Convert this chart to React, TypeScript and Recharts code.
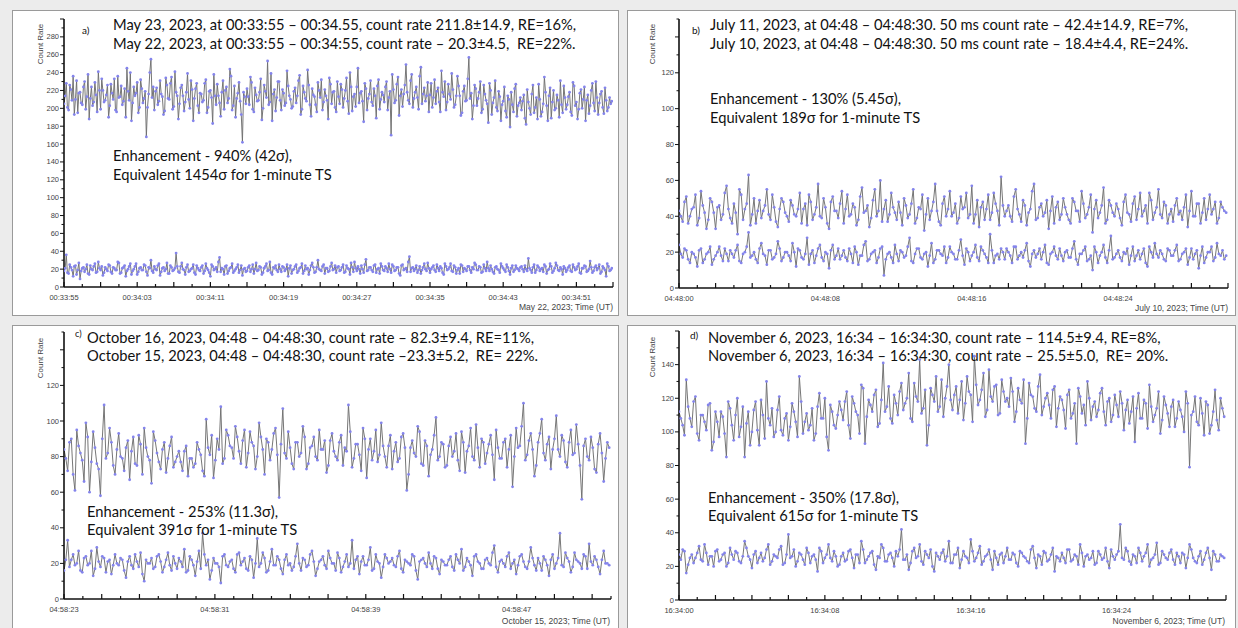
import React from 'react';
import { LineChart, Line, XAxis, YAxis } from 'recharts';

// ---------- Panel a: May 23 (signal) vs May 22 (background), 00:33:55 – 00:34:55 ----------
// samples at t = i*step
const A_HI = [
  205, 228, 198, 221, 236, 210, 195, 218, 204, 230, 213, 188, 224, 207, 215, 241, 199, 220, 209, 226,
  203, 217, 233, 196, 212, 225, 208, 190, 219, 240, 206, 214, 229, 201, 222, 211, 168, 216, 255, 224,
  219, 204, 231, 213, 197, 226, 210, 235, 202, 218, 188, 223, 214, 207, 239, 200, 221, 211, 228, 195,
  216, 209, 232, 201, 220, 183, 214, 227, 206, 218, 199, 224, 211, 236, 203, 190, 217, 208, 162, 213,
  222, 204, 229, 196, 215, 209, 233, 200, 219, 253, 207, 186, 221, 212, 230, 198, 217, 206, 225, 210,
  202, 223, 214, 237, 199, 218, 208, 226, 191, 215, 204, 229, 212, 198, 221, 209, 234, 205, 219, 196,
  213, 227, 201, 220, 208, 240, 197, 216, 224, 206, 219, 185, 222, 211, 231, 203, 214, 225, 199, 218,
  207, 230, 212, 170, 221, 209, 235, 214, 202, 226, 218, 205, 238, 211, 224, 199, 246, 216, 208, 229,
  215, 201, 232, 219, 207, 242, 213, 198, 227, 210, 221, 204, 236, 214, 195, 225, 209, 257, 217, 203,
  222, 211, 230, 199, 216, 205, 228, 193, 212, 201, 219, 186, 208, 197, 214, 179, 204, 222, 191, 206,
  198, 215, 182, 207, 193, 226, 201, 188, 210, 196, 235, 203, 214, 189, 220, 200, 209, 231, 195, 212,
  204, 218, 192, 225, 207, 199, 221, 210, 186, 215, 203, 228, 197, 212, 206, 219, 194, 209, 201, 205,
];
// samples at t = (i+0.5)*step
const A_HI_MID = [
  214, 201, 226, 209, 193, 231, 217, 206, 224, 199, 238, 211, 203, 229, 196, 220, 233, 207, 215, 190,
  227, 210, 198, 236, 213, 204, 222, 245, 209, 186, 224, 217, 195, 232, 206, 219, 201, 240, 212, 198,
  223, 208, 216, 193, 234, 211, 228, 199, 241, 214, 205, 226, 197, 218, 210, 231, 186, 222, 203, 217,
  207, 228, 195, 219, 212, 238, 204, 214, 191, 231, 220, 206, 244, 198, 225, 211, 229, 193, 218, 205,
  213, 235, 199, 223, 208, 218, 187, 226, 212, 204, 239, 216, 197, 230, 209, 221, 203, 242, 214, 200,
  219, 206, 231, 193, 225, 211, 243, 204, 222, 213, 196, 220, 232, 207, 214, 188, 227, 218, 201, 230,
  205, 221, 211, 234, 194, 224, 213, 202, 245, 217, 208, 228, 198, 216, 207, 222, 189, 232, 210, 215,
  224, 198, 219, 238, 206, 227, 192, 221, 216, 249, 209, 231, 201, 218, 212, 236, 205, 223, 214, 196,
  228, 212, 205, 223, 196, 218, 230, 207, 216, 239, 201, 214, 225, 192, 219, 208, 233, 211, 188, 226,
  203, 218, 195, 226, 209, 184, 220, 206, 231, 197, 213, 204, 224, 190, 210, 218, 196, 227, 203, 212,
  208, 189, 221, 200, 216, 195, 212, 227, 191, 205, 218, 186, 223, 207, 198, 215, 190, 204, 225, 199,
  213, 196, 229, 203, 188, 217, 200, 224, 209, 194, 220, 206, 230, 193, 216, 201, 223, 197, 212, 208,
];
const A_LO = [
  18, 36, 15, 22, 12, 24, 19, 9, 21, 17, 25, 14, 20, 23, 16, 28, 19, 13, 22, 18,
  24, 15, 21, 19, 27, 16, 22, 12, 20, 26, 18, 23, 14, 21, 19, 25, 17, 22, 30, 16,
  20, 24, 13, 21, 18, 27, 15, 22, 19, 38, 17, 23, 20, 14, 25, 18, 21, 16, 24, 19,
  22, 15, 26, 19, 12, 23, 20, 17, 33, 21, 14, 24, 18, 22, 16, 20, 25, 19, 13, 21,
  18, 24, 20, 15, 27, 19, 22, 16, 23, 18, 28, 14, 21, 19, 25, 17, 22, 20, 12, 24,
  19, 23, 16, 21, 26, 18, 20, 14, 24, 22, 17, 30, 19, 23, 15, 21, 18, 27, 20, 16,
  23, 19, 25, 17, 21, 14, 22, 28, 18, 20, 24, 16, 31, 19, 22, 17, 25, 20, 15, 23,
  18, 21, 26, 16, 23, 19, 22, 13, 25, 20, 17, 34, 21, 18, 24, 19, 15, 22, 20, 27,
  16, 22, 19, 25, 18, 21, 14, 23, 20, 26, 17, 22, 19, 15, 24, 21, 18, 23, 16, 20,
  25, 19, 22, 17, 21, 28, 18, 20, 15, 23, 19, 26, 21, 17, 22, 14, 24, 19, 21, 18,
  23, 17, 20, 32, 19, 22, 16, 24, 18, 21, 25, 15, 20, 23, 18, 27, 19, 22, 14, 21,
  19, 24, 17, 22, 20, 26, 15, 21, 23, 18, 29, 16, 22, 19, 25, 17, 21, 12, 23, 19,
];
const A_LO_MID = [
  21, 16, 25, 19, 23, 14, 27, 18, 22, 20, 15, 24, 19, 26, 17, 21, 23, 16, 20, 25,
  17, 22, 19, 28, 15, 21, 24, 18, 23, 14, 20, 26, 17, 22, 19, 24, 13, 21, 18, 23,
  19, 26, 17, 22, 20, 15, 24, 18, 21, 23, 16, 27, 19, 22, 17, 20, 25, 14, 21, 18,
  24, 18, 21, 16, 25, 19, 22, 28, 17, 20, 23, 15, 21, 26, 18, 22, 16, 24, 20, 17,
  22, 17, 25, 20, 18, 23, 14, 21, 26, 19, 16, 22, 24, 17, 20, 23, 18, 25, 21, 15,
  20, 25, 18, 22, 15, 24, 21, 19, 27, 16, 22, 20, 18, 25, 21, 17, 23, 19, 24, 22,
  18, 22, 16, 24, 20, 27, 17, 21, 23, 15, 20, 25, 18, 22, 19, 24, 16, 21, 26, 19,
  23, 17, 20, 25, 18, 22, 15, 24, 19, 21, 28, 17, 22, 20, 16, 23, 19, 26, 18, 21,
  20, 24, 17, 21, 23, 16, 26, 19, 22, 18, 24, 15, 21, 25, 17, 20, 23, 19, 22, 27,
  19, 23, 16, 25, 18, 21, 24, 17, 22, 20, 16, 23, 19, 25, 18, 21, 17, 24, 20, 22,
  20, 24, 18, 21, 16, 25, 19, 22, 20, 17, 23, 19, 26, 16, 21, 24, 18, 20, 23, 17,
  22, 18, 25, 19, 23, 16, 21, 24, 17, 20, 22, 18, 24, 21, 15, 23, 19, 26, 18, 21,
];
const A_STEP = 0.25;
const A_X_LABEL_AT = [0, 8, 16, 24, 32, 40, 48, 56];
const A_X_LABELS = ['00:33:55', '00:34:03', '00:34:11', '00:34:19', '00:34:27', '00:34:35', '00:34:43', '00:34:51'];
const A_Y_LABELS = [0, 20, 40, 60, 80, 100, 120, 140, 160, 180, 200, 220, 240, 260, 280];

// ---------- Panel b: July 11 vs July 10, 04:48 – 04:48:30 ----------
const B_HI = [
  43, 37, 51, 40, 45, 35, 54, 42, 38, 48, 33, 46, 41, 57, 39,
  47, 30, 52, 44, 63, 41, 36, 49, 43, 55, 38, 45, 34, 50, 42,
  37, 46, 40, 53, 44, 35, 48, 41, 58, 39, 45, 33, 51, 43, 47,
  36, 52, 41, 45, 38, 56, 43, 34, 49, 40, 60, 44, 37, 53, 42,
  48, 35, 46, 41, 55, 39, 44, 32, 50, 43, 58, 37, 47, 40, 54,
  42, 36, 51, 45, 39, 57, 41, 34, 48, 44, 38, 53, 43, 62, 40,
  46, 37, 55, 41, 49, 35, 44, 58, 39, 47, 42, 33, 51, 45, 38,
  50, 41, 36, 48, 43, 54, 39, 45, 31, 49, 42, 56, 38, 46, 40,
  44, 35, 52, 41, 47, 38, 53, 43, 36, 49, 42, 55, 39, 46, 41,
  37, 50, 43, 45, 34, 54, 40, 47, 42, 38, 52, 44, 36, 48, 43,
];
const B_HI_MID = [
  40, 48, 36, 44, 52, 39, 46, 33, 50, 42, 45, 38, 53, 44, 36,
  42, 55, 38, 47, 35, 50, 43, 39, 46, 41, 52, 37, 44, 48, 40,
  49, 41, 44, 36, 47, 52, 38, 45, 40, 50, 36, 48, 43, 39, 54,
  44, 40, 47, 35, 51, 42, 46, 39, 55, 43, 37, 49, 41, 45, 38,
  42, 50, 39, 47, 36, 45, 52, 41, 38, 48, 43, 35, 51, 44, 40,
  47, 39, 44, 53, 41, 36, 49, 45, 38, 52, 42, 47, 35, 46, 43,
  40, 51, 44, 37, 46, 42, 54, 38, 45, 40, 49, 43, 36, 48, 41,
  45, 38, 50, 43, 37, 47, 41, 52, 44, 39, 46, 36, 49, 42, 47,
  39, 48, 42, 37, 51, 44, 40, 46, 53, 38, 45, 41, 48, 36, 44,
  46, 41, 38, 52, 43, 40, 47, 36, 50, 44, 41, 48, 39, 45, 42,
];
const B_LO = [
  24, 17, 21, 14, 19, 12, 22, 16, 20, 13, 18, 23, 15, 19, 21,
  17, 24, 14, 20, 31, 18, 16, 22, 19, 13, 21, 17, 26, 15, 20,
  18, 25, 12, 21, 16, 28, 19, 14, 22, 17, 20, 11, 24, 18, 16,
  21, 15, 19, 23, 13, 18, 26, 16, 20, 14, 22, 7, 19, 17, 24,
  15, 20, 18, 28, 14, 22, 17, 19, 12, 25, 16, 21, 18, 14, 23,
  19, 16, 27, 13, 20, 18, 24, 15, 21, 17, 30, 14, 19, 22, 16,
  20, 14, 23, 18, 17, 25, 12, 21, 19, 16, 24, 13, 20, 18, 22,
  15, 21, 17, 26, 13, 19, 23, 16, 10, 20, 18, 24, 14, 29, 17,
  21, 15, 19, 13, 23, 18, 16, 22, 12, 20, 25, 17, 19, 15, 21,
  18, 24, 16, 20, 13, 22, 19, 11, 23, 17, 20, 15, 25, 18, 16,
];
const B_LO_MID = [
  19, 22, 16, 20, 17, 21, 14, 19, 23, 16, 20, 18, 22, 15, 19,
  21, 15, 19, 23, 17, 20, 14, 25, 18, 21, 16, 19, 22, 17, 20,
  15, 20, 22, 17, 19, 13, 21, 18, 24, 15, 19, 21, 16, 22, 18,
  17, 22, 14, 20, 18, 24, 15, 19, 21, 17, 23, 16, 20, 14, 19,
  21, 17, 23, 15, 19, 22, 16, 20, 18, 14, 21, 19, 23, 17, 20,
  16, 21, 18, 22, 15, 20, 17, 23, 19, 14, 21, 18, 16, 20, 22,
  18, 23, 16, 20, 21, 15, 19, 17, 22, 20, 14, 19, 23, 16, 18,
  20, 17, 22, 16, 19, 21, 15, 18, 23, 14, 20, 17, 21, 16, 19,
  17, 20, 22, 18, 15, 21, 19, 14, 23, 17, 19, 21, 16, 22, 18,
  21, 15, 19, 22, 17, 16, 21, 18, 14, 20, 23, 17, 19, 21, 18,
];
const B_STEP = 0.2;
const B_X_LABEL_AT = [0, 8, 16, 24];
const B_X_LABELS = ['04:48:00', '04:48:08', '04:48:16', '04:48:24'];
const B_Y_LABELS = [0, 20, 40, 60, 80, 100, 120];

// ---------- Panel c: October 16 vs October 15 ----------
const C_HI = [
  84, 72, 90, 61, 86, 78, 99, 60, 94, 76, 58, 109, 82, 88, 70,
  93, 79, 85, 67, 91, 75, 87, 96, 80, 65, 89, 77, 84, 71, 86,
  74, 80, 77, 83, 69, 79, 76, 84, 72, 101, 81, 68, 90, 108, 79,
  92, 85, 97, 83, 89, 74, 94, 86, 80, 91, 70, 88, 84, 96, 57,
  107, 79, 85, 73, 88, 82, 91, 76, 86, 80, 95, 84, 71, 89, 83,
  78, 92, 85, 109, 74, 87, 81, 96, 68, 90, 83, 77, 99, 80, 86,
  73, 88, 79, 93, 61, 85, 82, 97, 76, 89, 69, 84, 102, 80, 87,
  75, 91, 83, 78, 94, 71, 86, 80, 98, 74, 88, 82, 92, 67, 85,
  79, 90, 84, 63, 96, 86, 110, 81, 93, 69, 88, 101, 78, 91, 84,
  103, 80, 89, 74, 95, 82, 87, 56, 90, 78, 85, 71, 93, 66, 88,
];
const C_HI_MID = [
  79, 88, 70, 95, 82, 66, 91, 77, 85, 73, 90, 79, 96, 75, 84,
  80, 72, 89, 83, 76, 92, 70, 85, 78, 94, 82, 73, 88, 79, 91,
  77, 83, 72, 86, 79, 74, 88, 81, 69, 85, 92, 78, 84, 76, 95,
  86, 79, 91, 76, 95, 82, 88, 73, 99, 84, 90, 78, 93, 81, 87,
  82, 94, 76, 88, 80, 97, 73, 85, 91, 78, 84, 89, 75, 93, 80,
  88, 75, 83, 94, 79, 87, 72, 90, 84, 78, 95, 81, 86, 74, 92,
  83, 77, 91, 85, 70, 89, 80, 94, 75, 86, 81, 92, 78, 88, 74,
  86, 80, 93, 72, 88, 83, 96, 78, 85, 90, 76, 87, 81, 95, 79,
  88, 74, 92, 80, 85, 97, 78, 89, 84, 75, 93, 82, 87, 73, 90,
  84, 92, 77, 88, 81, 98, 75, 86, 80, 91, 73, 87, 82, 79, 85,
];
const C_LO = [
  16, 33, 22, 19, 27, 15, 24, 20, 13, 29, 18, 23, 21, 14, 25,
  19, 22, 12, 24, 17, 21, 26, 10, 20, 23, 18, 25, 15, 22, 19,
  24, 17, 21, 28, 16, 22, 13, 27, 37, 19, 11, 23, 20, 9, 25,
  18, 22, 15, 26, 21, 17, 24, 12, 34, 20, 23, 16, 28, 19, 22,
  14, 25, 20, 18, 31, 16, 22, 19, 27, 13, 21, 24, 17, 23, 20,
  26, 15, 21, 18, 33, 22, 14, 24, 19, 29, 17, 21, 12, 25, 20,
  23, 18, 27, 15, 21, 19, 24, 11, 22, 20, 26, 17, 23, 14, 21,
  19, 24, 16, 22, 28, 18, 21, 13, 25, 20, 17, 23, 19, 30, 15,
  22, 18, 26, 20, 14, 24, 21, 17, 29, 19, 23, 16, 22, 13, 25,
  20, 37, 18, 23, 15, 26, 21, 17, 24, 31, 19, 22, 14, 27, 20,
];
const C_LO_MID = [
  22, 18, 25, 20, 16, 23, 19, 27, 17, 21, 24, 15, 22, 19, 20,
  23, 16, 21, 19, 25, 18, 14, 22, 20, 17, 24, 21, 18, 26, 16,
  20, 23, 18, 15, 24, 19, 21, 17, 25, 22, 16, 20, 18, 24, 19,
  21, 17, 25, 19, 23, 16, 22, 20, 18, 26, 15, 21, 19, 24, 17,
  22, 19, 16, 24, 20, 23, 18, 25, 21, 17, 22, 19, 27, 20, 16,
  23, 18, 25, 20, 17, 24, 21, 19, 22, 16, 25, 20, 18, 23, 21,
  19, 24, 17, 22, 20, 25, 16, 21, 23, 18, 20, 24, 17, 22, 19,
  22, 18, 25, 20, 16, 23, 19, 24, 21, 17, 22, 20, 26, 18, 21,
  20, 24, 17, 22, 19, 25, 18, 21, 23, 16, 20, 24, 19, 22, 17,
  23, 19, 26, 21, 18, 22, 20, 25, 17, 21, 24, 18, 22, 20, 19,
];
const C_STEP = 29 / 150;
const C_X_LABEL_AT = [0, 8, 16, 24];
const C_X_LABELS = ['04:58:23', '04:58:31', '04:58:39', '04:58:47'];
const C_Y_LABELS = [0, 20, 40, 60, 80, 100, 120];

// ---------- Panel d: November 6 ----------
const D_HI = [
  112, 104, 131, 108, 118, 99, 110, 106, 116, 89, 112, 97, 109, 85, 114,
  95, 120, 103, 85, 112, 100, 118, 92, 110, 130, 104, 97, 113, 101, 108,
  95, 117, 106, 133, 99, 111, 104, 95, 115, 108, 120, 89, 112, 102, 118,
  107, 124, 96, 117, 110, 128, 93, 119, 112, 125, 105, 141, 115, 108, 122,
  110, 129, 117, 135, 106, 121, 143, 114, 92, 126, 118, 112, 131, 120, 140,
  113, 127, 119, 107, 133, 122, 145, 116, 125, 109, 137, 118, 128, 111, 124,
  120, 132, 106, 126, 117, 93, 129, 121, 112, 134, 115, 123, 108, 127, 114,
  119, 102, 125, 111, 93, 121, 116, 130, 107, 118, 113, 126, 104, 120, 110,
  116, 124, 101, 119, 112, 94, 123, 108, 117, 128, 106, 114, 99, 121, 111,
  115, 103, 118, 109, 124, 79, 112, 106, 120, 98, 116, 104, 125, 101, 114,
];
const D_HI_MID = [
  108, 98, 115, 103, 121, 95, 110, 101, 117, 94, 106, 112, 99, 118, 104,
  110, 97, 115, 105, 92, 113, 101, 119, 96, 108, 114, 100, 121, 98, 111,
  103, 112, 97, 118, 106, 101, 114, 99, 123, 108, 97, 116, 104, 110, 113,
  118, 104, 121, 112, 99, 126, 109, 116, 122, 103, 119, 112, 127, 105, 117,
  124, 113, 120, 108, 129, 118, 111, 125, 104, 122, 133, 115, 109, 127, 119,
  122, 111, 130, 117, 124, 106, 128, 119, 135, 113, 121, 127, 110, 131, 118,
  115, 124, 112, 119, 131, 108, 122, 114, 127, 110, 120, 116, 125, 103, 121,
  113, 122, 108, 117, 126, 111, 104, 120, 115, 109, 123, 112, 118, 106, 122,
  109, 117, 113, 105, 121, 114, 108, 119, 102, 115, 110, 124, 107, 116, 103,
  119, 108, 113, 100, 117, 110, 121, 104, 111, 118, 99, 112, 107, 120, 109,
];
const D_LO = [
  27, 30, 16, 25, 22, 28, 24, 33, 21, 26, 29, 23, 27, 20, 31,
  24, 28, 22, 35, 26, 19, 29, 25, 23, 30, 21, 27, 25, 32, 22,
  39, 26, 20, 28, 24, 31, 22, 27, 17, 29, 25, 33, 23, 26, 21,
  28, 24, 30, 19, 27, 35, 22, 26, 29, 18, 25, 31, 23, 28, 20,
  26, 42, 24, 18, 29, 25, 33, 21, 27, 30, 17, 26, 28, 23, 35,
  22, 27, 19, 29, 25, 36, 23, 28, 21, 26, 30, 18, 25, 27, 22,
  31, 24, 27, 20, 28, 25, 22, 32, 19, 26, 29, 23, 27, 17, 25,
  28, 22, 30, 24, 26, 33, 20, 27, 25, 21, 29, 24, 31, 19, 26,
  27, 45, 24, 29, 21, 26, 31, 23, 28, 20, 25, 34, 22, 27, 24,
  30, 21, 26, 28, 19, 33, 25, 22, 29, 24, 31, 18, 27, 23, 26,
];
const D_LO_MID = [
  24, 29, 21, 27, 25, 32, 23, 28, 26, 20, 30, 24, 28, 22, 27,
  29, 23, 26, 31, 24, 27, 22, 28, 25, 33, 23, 26, 30, 21, 27,
  25, 30, 23, 27, 21, 28, 26, 24, 31, 22, 27, 25, 29, 20, 26,
  23, 29, 25, 27, 22, 30, 24, 28, 21, 26, 33, 23, 27, 25, 29,
  30, 24, 27, 22, 31, 26, 23, 29, 25, 20, 28, 24, 30, 26, 22,
  27, 31, 24, 26, 22, 29, 25, 32, 23, 27, 24, 29, 21, 28, 26,
  24, 28, 22, 29, 26, 23, 30, 25, 27, 21, 28, 24, 31, 26, 23,
  25, 30, 23, 27, 21, 28, 26, 24, 29, 22, 27, 25, 23, 30, 24,
  29, 25, 31, 23, 27, 22, 28, 26, 33, 24, 27, 21, 29, 25, 28,
  24, 28, 22, 27, 25, 30, 23, 26, 21, 28, 25, 29, 23, 27, 25,
];
const D_STEP = 0.2;
const D_X_LABEL_AT = [0, 8, 16, 24];
const D_X_LABELS = ['16:34:00', '16:34:08', '16:34:16', '16:34:24'];
const D_Y_LABELS = [0, 20, 40, 60, 80, 100, 120, 140];

// ---------- text ----------
const TITLES = {
  a: ['May 23, 2023, at 00:33:55 – 00:34.55, count rate 211.8±14.9, RE=16%,', 'May 22, 2023, at 00:33:55 – 00:34:55, count rate – 20.3±4.5,  RE=22%.'],
  b: ['July 11, 2023, at 04:48 – 04:48:30. 50 ms count rate – 42.4±14.9, RE=7%,', 'July 10, 2023, at 04:48 – 04:48:30. 50 ms count rate – 18.4±4.4, RE=24%.'],
  c: ['October 16, 2023, 04:48 – 04:48:30, count rate – 82.3±9.4, RE=11%,', 'October 15, 2023, 04:48 – 04:48:30, count rate –23.3±5.2,  RE= 22%.'],
  d: ['November 6, 2023, 16:34 – 16:34:30, count rate – 114.5±9.4, RE=8%,', 'November 6, 2023, 16:34 – 16:34:30, count rate – 25.5±5.0,  RE= 20%.'],
};
const ENH = {
  a: ['Enhancement - 940% (42σ),', 'Equivalent 1454σ for 1-minute TS'],
  b: ['Enhancement - 130% (5.45σ),', 'Equivalent 189σ for 1-minute TS'],
  c: ['Enhancement - 253% (11.3σ),', 'Equivalent 391σ for 1-minute TS'],
  d: ['Enhancement - 350% (17.8σ),', 'Equivalent 615σ for 1-minute TS'],
};
const X_TITLES = {
  a: 'May 22, 2023; Time (UT)',
  b: 'July 10, 2023; Time (UT)',
  c: 'October 15, 2023; Time (UT)',
  d: 'November 6, 2023; Time (UT)',
};

const range = (a: number, b: number, s: number) => {
  const out: number[] = [];
  for (let v = a; v <= b + 1e-9; v += s) out.push(Math.round(v * 1000) / 1000);
  return out;
};

const buildRows = (hi: number[], hiMid: number[], lo: number[], loMid: number[], step: number) => {
  const rows: { t: number; hi: number; lo: number }[] = [];
  hi.forEach((v, i) => {
    rows.push({ t: Math.round(i * step * 10000) / 10000, hi: v, lo: lo[i] });
    rows.push({ t: Math.round((i + 0.5) * step * 10000) / 10000, hi: hiMid[i], lo: loMid[i] });
  });
  return rows;
};

const TICK_FONT = "'Liberation Sans', Arial, sans-serif";
const TEXT_FONT = "Lato, 'Open Sans', sans-serif";

const makeXTick = (labelAt: number[], labels: string[], majorStep: number) => (props: any) => {
  const { x, y, payload } = props;
  const v = payload.value as number;
  const r = v / majorStep;
  const major = Math.abs(r - Math.round(r)) < 1e-6;
  const idx = labelAt.indexOf(v);
  return (
    <g>
      <line x1={x} x2={x} y1={y} y2={y - (major ? 5 : 3)} stroke="#111" strokeWidth={1.2} />
      {idx >= 0 && (
        <text x={x} y={y + 10} textAnchor="middle" dominantBaseline="central" fontSize={7.5} fill="#444" fontFamily={TICK_FONT}>
          {labels[idx]}
        </text>
      )}
    </g>
  );
};

const makeYTick = (labels: number[]) => (props: any) => {
  const { x, y, payload } = props;
  const v = payload.value as number;
  const major = v % 20 === 0;
  const show = labels.indexOf(v) >= 0;
  return (
    <g>
      <line x1={x - (major ? 4 : 2.5)} x2={x} y1={y} y2={y} stroke="#111" strokeWidth={1} />
      {show && (
        <text x={x - 5} y={y} textAnchor="end" dominantBaseline="central" fontSize={7.5} fill="#444" fontFamily={TICK_FONT}>
          {v}
        </text>
      )}
    </g>
  );
};

type PanelProps = {
  left: number; top: number; width: number; height: number;
  margin: { top: number; right: number; bottom: number; left: number };
  data: any[];
  xMax: number; xTicks: number[]; xMajor: number; xLabelAt: number[]; xLabels: string[];
  yMax: number; yLabels: number[];
};

const LINE_COLOR = '#6f6f6f';
const DOT = { r: 1.4, fill: '#8484ec', stroke: 'none', strokeWidth: 0 };

const Panel = (p: PanelProps) => (
  <div style={{ position: 'absolute', left: p.left, top: p.top, width: p.width, height: p.height, background: '#fff', border: '1px solid #9a9a9a', boxSizing: 'border-box' }}>
    <div style={{ position: 'absolute', left: -1, top: -1 }}>
      <LineChart width={p.width} height={p.height} data={p.data} margin={p.margin}>
        <XAxis
          type="number" dataKey="t" domain={[0, p.xMax]} ticks={p.xTicks} interval={0}
          allowDataOverflow height={20} tickSize={0} tickMargin={0} tickLine={false}
          axisLine={{ stroke: '#111', strokeWidth: 1.6 }}
          tick={makeXTick(p.xLabelAt, p.xLabels, p.xMajor)}
        />
        <YAxis
          type="number" domain={[0, p.yMax]} ticks={range(0, p.yMax, 10)} interval={0}
          allowDataOverflow width={40} tickSize={0} tickMargin={0} tickLine={false}
          axisLine={{ stroke: '#111', strokeWidth: 1.6 }}
          tick={makeYTick(p.yLabels)}
        />
        <Line dataKey="hi" type="linear" stroke={LINE_COLOR} strokeWidth={0.95} isAnimationActive={false} dot={DOT} activeDot={false} />
        <Line dataKey="lo" type="linear" stroke={LINE_COLOR} strokeWidth={0.95} isAnimationActive={false} dot={DOT} activeDot={false} />
      </LineChart>
    </div>
  </div>
);

const T = (props: any) => (
  <text dominantBaseline="central" fill="#111" fontFamily={TEXT_FONT} fontSize={14.7} style={{ whiteSpace: 'pre' }} {...props} />
);

const S = (props: any) => (
  <text dominantBaseline="central" fill="#444" fontFamily={TICK_FONT} fontSize={8.5} style={{ whiteSpace: 'pre' }} {...props} />
);

const CountRate = ({ x, y }: { x: number; y: number }) => (
  <text x={x} y={y} transform={`rotate(-90 ${x} ${y})`} textAnchor="middle" dominantBaseline="central" fill="#444" fontFamily={TICK_FONT} fontSize={8}>
    Count Rate
  </text>
);

export default function App() {
  const dataA = buildRows(A_HI, A_HI_MID, A_LO, A_LO_MID, A_STEP);
  const dataB = buildRows(B_HI, B_HI_MID, B_LO, B_LO_MID, B_STEP);
  const dataC = buildRows(C_HI, C_HI_MID, C_LO, C_LO_MID, C_STEP);
  const dataD = buildRows(D_HI, D_HI_MID, D_LO, D_LO_MID, D_STEP);
  return (
    <div style={{ position: 'absolute', left: 0, top: 0, width: 1238, height: 628, background: '#ececec', overflow: 'hidden' }}>
      <Panel left={12} top={10} width={607} height={306}
        margin={{ top: 9, right: 6, bottom: 9, left: 12 }} data={dataA}
        xMax={60} xTicks={range(0, 60, 2)} xMajor={4} xLabelAt={A_X_LABEL_AT} xLabels={A_X_LABELS}
        yMax={300} yLabels={A_Y_LABELS} />
      <Panel left={627} top={10} width={609} height={306}
        margin={{ top: 9, right: 8, bottom: 8, left: 12 }} data={dataB}
        xMax={30} xTicks={range(0, 30, 1)} xMajor={2} xLabelAt={B_X_LABEL_AT} xLabels={B_X_LABELS}
        yMax={150} yLabels={B_Y_LABELS} />
      <Panel left={12} top={325} width={607} height={305}
        margin={{ top: 7, right: 8, bottom: 11, left: 12 }} data={dataC}
        xMax={29} xTicks={range(0, 29, 1)} xMajor={2} xLabelAt={C_X_LABEL_AT} xLabels={C_X_LABELS}
        yMax={150} yLabels={C_Y_LABELS} />
      <Panel left={627} top={325} width={609} height={305}
        margin={{ top: 6, right: 10, bottom: 10, left: 12 }} data={dataD}
        xMax={30} xTicks={range(0, 30, 1)} xMajor={2} xLabelAt={D_X_LABEL_AT} xLabels={D_X_LABELS}
        yMax={160} yLabels={D_Y_LABELS} />

      <svg width={1238} height={628} style={{ position: 'absolute', left: 0, top: 0, pointerEvents: 'none' }}>
        {/* panel a */}
        <text x={82} y={30} dominantBaseline="central" fontFamily={TEXT_FONT} fontSize={10} fill="#111">a)</text>
        <T x={113} y={24}>{TITLES.a[0]}</T>
        <T x={113} y={43}>{TITLES.a[1]}</T>
        <T x={113} y={155}>{ENH.a[0]}</T>
        <T x={113} y={174}>{ENH.a[1]}</T>
        <S x={613} y={307} textAnchor="end">{X_TITLES.a}</S>
        <CountRate x={40} y={44} />
        {/* panel b */}
        <text x={692} y={30} dominantBaseline="central" fontFamily={TEXT_FONT} fontSize={10} fill="#111">b)</text>
        <T x={710} y={24}>{TITLES.b[0]}</T>
        <T x={710} y={43}>{TITLES.b[1]}</T>
        <T x={710} y={98}>{ENH.b[0]}</T>
        <T x={710} y={117}>{ENH.b[1]}</T>
        <S x={1228} y={308} textAnchor="end">{X_TITLES.b}</S>
        <CountRate x={652} y={44} />
        {/* panel c */}
        <text x={75} y={333} dominantBaseline="central" fontFamily={TEXT_FONT} fontSize={9} fill="#111">c)</text>
        <T x={87} y={337}>{TITLES.c[0]}</T>
        <T x={87} y={355}>{TITLES.c[1]}</T>
        <T x={87} y={511}>{ENH.c[0]}</T>
        <T x={87} y={529}>{ENH.c[1]}</T>
        <S x={610} y={621} textAnchor="end">{X_TITLES.c}</S>
        <CountRate x={40} y={358} />
        {/* panel d */}
        <text x={690} y={335} dominantBaseline="central" fontFamily={TEXT_FONT} fontSize={10} fill="#111">d)</text>
        <T x={708} y={337}>{TITLES.d[0]}</T>
        <T x={708} y={355}>{TITLES.d[1]}</T>
        <T x={708} y={497}>{ENH.d[0]}</T>
        <T x={708} y={515}>{ENH.d[1]}</T>
        <S x={1225} y={621} textAnchor="end">{X_TITLES.d}</S>
        <CountRate x={652} y={357} />
      </svg>
    </div>
  );
}
